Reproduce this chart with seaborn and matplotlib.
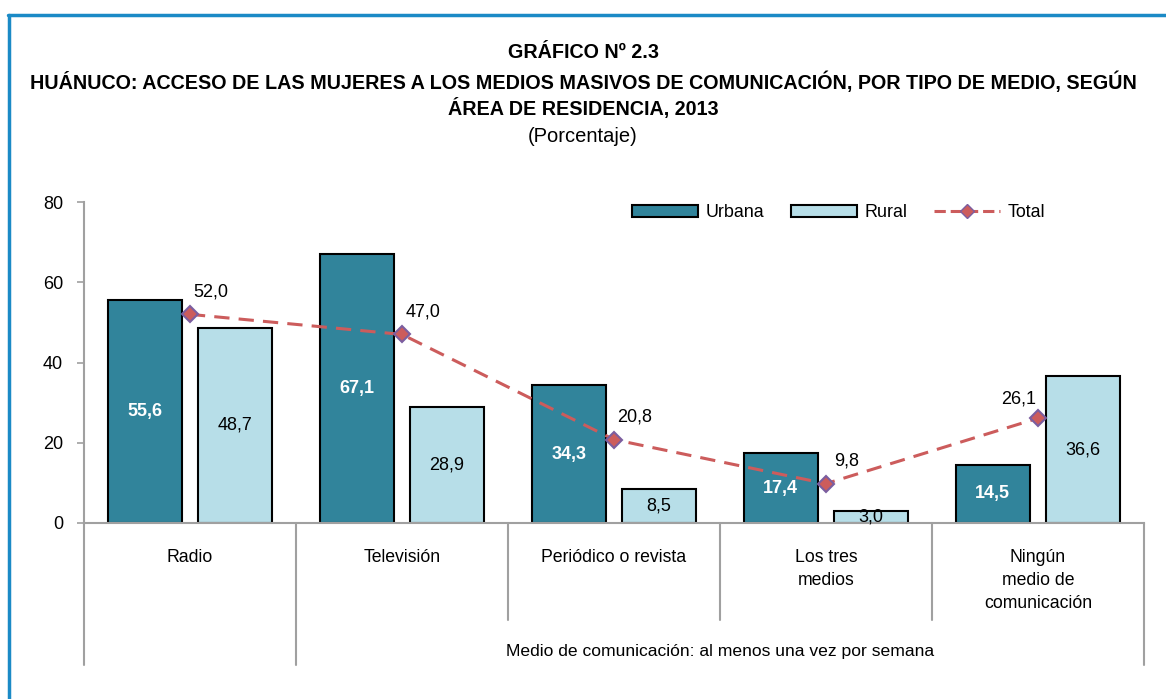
import pandas as pd
import matplotlib.pyplot as plt
import seaborn as sns
from matplotlib.patches import Patch
from matplotlib.lines import Line2D


# Data
medios = ["Radio", "Televisión", "Periódico o revista",
          "Los tres\nmedios", "Ningún\nmedio de\ncomunicación"]
urbana = [55.6, 67.1, 34.3, 17.4, 14.5]
rural = [48.7, 28.9, 8.5, 3.0, 36.6]
total = [52.0, 47.0, 20.8, 9.8, 26.1]
y_ticks = [0, 20, 40, 60, 80]

urbana_color = "#31849B"
rural_color = "#B7DEE8"
line_color = "#CC5C5C"
marker_edge = "#7B5EA0"
gray = "#A0A0A0"

sns.set_style("white")
plt.rcParams["font.family"] = ["Liberation Sans", "DejaVu Sans"]
plt.rcParams["text.color"] = "black"


def fmt(v):
    return f"{v:.1f}".replace(".", ",")


df = pd.DataFrame({
    "Medio": medios * 2,
    "Valor": urbana + rural,
    "Area": ["Urbana"] * 5 + ["Rural"] * 5,
})
df_total = pd.DataFrame({"Medio": medios, "Total": total})

fig = plt.figure(figsize=(11.66, 6.99), dpi=100)
ax = fig.add_axes([0.072, 0.2518, 0.909, 0.4592])

sns.barplot(
    data=df,
    x="Medio",
    y="Valor",
    hue="Area",
    palette=[urbana_color, rural_color],
    saturation=1,
    width=0.85,
    gap=0.18,
    edgecolor="black",
    linewidth=1.5,
    legend=False,
    ax=ax
)

sns.pointplot(
    data=df_total,
    x="Medio",
    y="Total",
    color=line_color,
    markers="D",
    linestyles="--",
    linewidth=2.2,
    markersize=8,
    markeredgecolor=marker_edge,
    markeredgewidth=1.5,
    ax=ax
)
for line in ax.lines:
    line.set_dashes([5, 3])

# labels on bars
for i in range(len(medios)):
    ax.text(i - 0.2125, urbana[i] / 2, fmt(urbana[i]),
            ha="center", va="center", color="white", fontweight="bold", fontsize=13)
    ax.text(i + 0.2125, rural[i] / 2, fmt(rural[i]),
            ha="center", va="center", color="black", fontsize=13)
    offset = (-14, 14) if i == 4 else (15, 16)
    ax.annotate(fmt(total[i]), (i, total[i]),
                xytext=offset, textcoords="offset points",
                ha="center", va="center", fontsize=13)

ax.set_xlim(-0.5, 4.5)
ax.set_ylim(0, 80)
ax.set_yticks(y_ticks)
ax.set_xlabel("")
ax.set_ylabel("")
ax.tick_params(axis="y", labelsize=13, length=5, width=1.2, color=gray,
               labelcolor="black", direction="out", left=True, pad=10)
ax.tick_params(axis="x", labelsize=12.7, length=0, pad=19, labelcolor="black")
for lbl in ax.get_xticklabels():
    lbl.set_linespacing(1.45)

sns.despine(ax=ax)
for side in ["left", "bottom"]:
    ax.spines[side].set_color(gray)
    ax.spines[side].set_linewidth(1.5)

# multi-level category separators
trans = ax.get_xaxis_transform()
for x in [-0.5, 0.5, 4.5]:
    ax.plot([x, x], [0, -0.442], transform=trans, color=gray, lw=1.5, clip_on=False)
for x in [1.5, 2.5, 3.5]:
    ax.plot([x, x], [0, -0.302], transform=trans, color=gray, lw=1.5, clip_on=False)
ax.text(2.5, -0.40, "Medio de comunicación: al menos una vez por semana",
        transform=trans, ha="center", va="center", fontsize=12.6)

# legend
handles = [
    Patch(facecolor=urbana_color, edgecolor="black", linewidth=1.5, label="Urbana"),
    Patch(facecolor=rural_color, edgecolor="black", linewidth=1.5, label="Rural"),
    Line2D([0], [0], color=line_color, lw=2.2, ls="--", marker="D", markersize=7,
           markerfacecolor=line_color, markeredgecolor=marker_edge, label="Total"),
]
ax.legend(handles=handles, ncol=3, frameon=False, fontsize=12.9,
          loc="center", bbox_to_anchor=(0.712, 0.966), handlelength=3.7,
          handleheight=0.6, columnspacing=1.5, handletextpad=0.4)

# titles
fig.text(0.5, 1 - 53 / 699, "GRÁFICO Nº 2.3", ha="center", va="center",
         fontsize=14.2, fontweight="bold")
fig.text(0.5, 1 - 82 / 699,
         "HUÁNUCO: ACCESO DE LAS MUJERES A LOS MEDIOS MASIVOS DE COMUNICACIÓN, POR TIPO DE MEDIO, SEGÚN",
         ha="center", va="center", fontsize=14.2, fontweight="bold")
fig.text(0.5, 1 - 109 / 699, "ÁREA DE RESIDENCIA, 2013", ha="center", va="center",
         fontsize=14.2, fontweight="bold")
fig.text(0.5, 1 - 137 / 699, "(Porcentaje)", ha="center", va="center", fontsize=14.5)

# blue frame
fig.add_artist(Line2D([8 / 1166, 1], [1 - 15 / 699, 1 - 15 / 699],
                      color="#1B8AC6", lw=2.5, transform=fig.transFigure))
fig.add_artist(Line2D([8.5 / 1166, 8.5 / 1166], [0, 1 - 15 / 699],
                      color="#1B8AC6", lw=2.5, transform=fig.transFigure))

plt.savefig("out.png", dpi=100)
plt.close()
